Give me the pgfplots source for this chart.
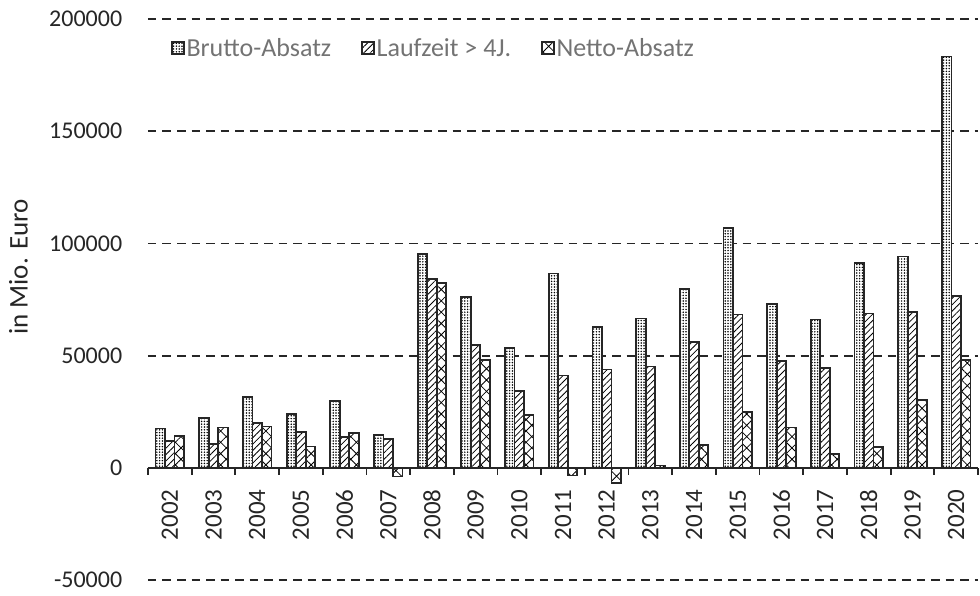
\documentclass[border=0pt]{standalone}
\usepackage{fontspec}
\setmainfont{Carlito}
\usepackage{pgfplots}
\pgfplotsset{compat=1.18}
\usetikzlibrary{patterns.meta}
\definecolor{legendgray}{HTML}{737373}
\definecolor{ticktext}{HTML}{262626}
\begin{document}
\begin{tikzpicture}[x=1pt,y=1pt]
\path[use as bounding box] (0,0) rectangle (980,595);
\begin{axis}[
  at={(148pt,15pt)}, anchor=south west,
  scale only axis, width=830pt, height=561pt,
  xmin=-0.5, xmax=18.5, ymin=-50000, ymax=200000,
  axis x line*=middle, axis y line*=left,
  y axis line style={draw=none},
  x axis line style={line width=1.8pt, ticktext},
  ybar=0pt, bar width=9.5pt,
  xtick={0,...,18},
  xticklabels={2002,2003,2004,2005,2006,2007,2008,2009,2010,2011,2012,2013,2014,2015,2016,2017,2018,2019,2020},
  minor xtick={-0.5,0.5,...,18.5},
  tick align=outside,
  major x tick style={draw=none},
  minor x tick style={ticktext, line width=1.8pt},
  minor tick length=7pt,
  ytick={-50000,0,50000,100000,150000,200000},
  major y tick style={draw=none},
  scaled y ticks=false,
  yticklabel style={/pgf/number format/fixed, /pgf/number format/1000 sep={}, xshift=-18pt},
  /pgf/number format/assume math mode=true,
  every tick label/.append style={font=\fontsize{24}{28}\selectfont, text=ticktext},
  xticklabel style={yshift=-14pt, rotate=90, anchor=east, font=\fontsize{25}{28}\selectfont},
  ymajorgrids, major grid style={ticktext, line width=1.8pt, dash pattern=on 8.5pt off 6pt},
  every axis y label/.style={at={(rel axis cs:-0.156,0.558)}, rotate=90, anchor=center, font=\fontsize{27}{30}\selectfont, text=ticktext},
  ylabel={in Mio. Euro},
  legend style={at={(rel axis cs:0.024,0.948)}, anchor=west, draw=none, fill=none,
    font=\fontsize{26}{30}\selectfont, text=legendgray,
    /tikz/every even column/.append style={column sep=28pt}},
  legend columns=3,
  legend image code/.code={\draw[#1, line width=1.4pt] (0pt,-6pt) rectangle (12pt,6pt);},
]
\addplot[draw=ticktext, line width=1.8pt, fill=white, postaction={pattern={Dots[distance=2.8pt, radius=0.85pt]}}] coordinates {
(0,17500) (1,22200) (2,31400) (3,24100) (4,29600) (5,14600) (6,95100) (7,76200) (8,53400) (9,86600)
(10,62900) (11,66500) (12,79800) (13,106700) (14,73100) (15,66100) (16,91200) (17,94200) (18,183300)};
\addplot[draw=ticktext, line width=1.8pt, fill=white, postaction={pattern={Lines[angle=45, distance=4.5pt, line width=0.8pt]}}] coordinates {
(0,11800) (1,10700) (2,20000) (3,16100) (4,13700) (5,12800) (6,84200) (7,54800) (8,34400) (9,41100)
(10,43800) (11,45100) (12,55900) (13,68300) (14,47500) (15,44500) (16,68750) (17,69500) (18,76500)};
\addplot[draw=ticktext, line width=1.8pt, fill=white, postaction={pattern={Hatch[angle=45, distance=8pt, line width=0.8pt]}}] coordinates {
(0,14000) (1,18000) (2,18400) (3,9500) (4,15500) (5,-3900) (6,82400) (7,48200) (8,23400) (9,-3400)
(10,-6700) (11,1000) (12,10000) (13,24900) (14,18000) (15,6250) (16,9200) (17,30100) (18,47900)};
\legend{Brutto-Absatz, Laufzeit > 4J.\hspace{18pt}, Netto-Absatz}
\end{axis}
\end{tikzpicture}
\end{document}
